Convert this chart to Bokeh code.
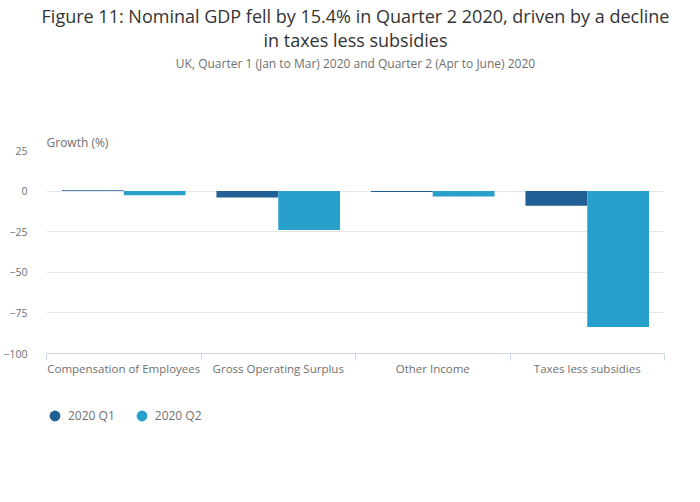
import numpy as np
from bokeh.plotting import figure
from bokeh.layouts import column
from bokeh.models import (Range1d, FixedTicker, Title, Legend, LegendItem, ColumnDataSource)
from bokeh.transform import dodge
from bokeh.embed import file_html
from bokeh.resources import INLINE

categories = ["Compensation of Employees", "Gross Operating Surplus", "Other Income", "Taxes less subsidies"]
q1_values = [0.6, -3.9, -0.6, -9.0]
q2_values = [-2.6, -24.0, -3.3, -83.7]
series_names = ["2020 Q1", "2020 Q2"]
y_ticks = [-100, -75, -50, -25, 0, 25]

FONT = "Open Sans"
C_Q1 = "#206095"
C_Q2 = "#27a0cc"
GREY = "#707070"
AXIS = "#ccd6eb"

n = len(categories)
centers = [i + 0.5 for i in range(n)]
src = ColumnDataSource(dict(x=centers, q1=q1_values, q2=q2_values))

p = figure(frame_width=618, frame_height=203,
           x_range=Range1d(0, n),
           y_range=Range1d(-100, 25),
           output_backend="svg", toolbar_location=None,
           min_border_left=39, min_border_right=27, min_border_top=142, min_border_bottom=38)
p.outline_line_color = None

p.vbar(x=dodge("x", -0.2), top="q1", bottom=0, width=0.4, source=src,
       fill_color=C_Q1, line_color=None)
p.vbar(x=dodge("x", 0.2), top="q2", bottom=0, width=0.4, source=src,
       fill_color=C_Q2, line_color=None)

# y axis
p.yaxis.ticker = FixedTicker(ticks=y_ticks)
p.yaxis.axis_line_color = None
p.yaxis.major_tick_line_color = None
p.yaxis.minor_tick_line_color = None
p.yaxis.major_label_text_font = FONT
p.yaxis.major_label_text_font_size = "10.5px"
p.yaxis.major_label_text_color = GREY
p.yaxis.major_label_standoff = 13
p.ygrid.grid_line_color = "#e6e6e6"
p.ygrid.ticker = FixedTicker(ticks=y_ticks)
p.xgrid.visible = False

# x axis: category labels at centres, ticks at boundaries
xa = p.xaxis[0]
xa.ticker = FixedTicker(ticks=centers, minor_ticks=list(range(n + 1)))
xa.major_label_overrides = {c: cat for c, cat in zip(centers, categories)}
xa.axis_line_color = AXIS
xa.major_tick_line_color = None
xa.major_tick_in = 0
xa.major_tick_out = 7
xa.minor_tick_line_color = AXIS
xa.minor_tick_in = 0
xa.minor_tick_out = 7
xa.major_label_text_font = FONT
xa.major_label_text_font_size = "11.5px"
xa.major_label_text_color = GREY
xa.major_label_standoff = 0

# titles (stacked upward from the frame)
p.add_layout(Title(text="Growth (%)", align="left", text_font=FONT, text_font_size="12px",
                   text_color=GREY, text_font_style="normal", standoff=0), "above")
p.add_layout(Title(text=" ", align="left", text_font=FONT, text_font_size="12px",
                   text_color=GREY, text_font_style="normal", standoff=41), "above")
p.add_layout(Title(text="UK, Quarter 1 (Jan to Mar) 2020 and Quarter 2 (Apr to June) 2020", align="center",
                   text_font=FONT, text_font_size="12px", text_color=GREY, text_font_style="normal",
                   standoff=0, offset=-6), "above")
p.add_layout(Title(text="Figure 11: Nominal GDP fell by 15.4% in Quarter 2 2020, driven by a decline\nin taxes less subsidies",
                   align="center", text_align="center", text_line_height=1.0,
                   text_font=FONT, text_font_size="18px", text_color="#333333", text_font_style="normal",
                   standoff=2, offset=-6), "above")

# legend strip (its frame is aligned with the chart frame by the column layout)
lg = figure(width=684, height=50, x_range=Range1d(0, 1), y_range=Range1d(0, 1),
            output_backend="svg", toolbar_location=None, min_border=0,
            x_axis_location=None, y_axis_location=None)
lg.outline_line_color = None
lg.xgrid.visible = False
lg.ygrid.visible = False
nan = np.array([np.nan])
r1 = lg.scatter(x=nan, y=nan, marker="circle", size=11, fill_color=C_Q1, line_color=None)
r2 = lg.scatter(x=nan, y=nan, marker="circle", size=11, fill_color=C_Q2, line_color=None)
legend = Legend(items=[LegendItem(label=series_names[0], renderers=[r1]),
                       LegendItem(label=series_names[1], renderers=[r2])],
                orientation="horizontal", location=(-5, 12),
                border_line_color=None, background_fill_alpha=0,
                label_text_font=FONT, label_text_font_size="12px", label_text_color=GREY,
                glyph_width=27, glyph_height=27, label_standoff=0, spacing=13, padding=0, margin=0)
lg.add_layout(legend, "center")

layout = column(p, lg)
open("out.html", "w").write(file_html(layout, INLINE))
